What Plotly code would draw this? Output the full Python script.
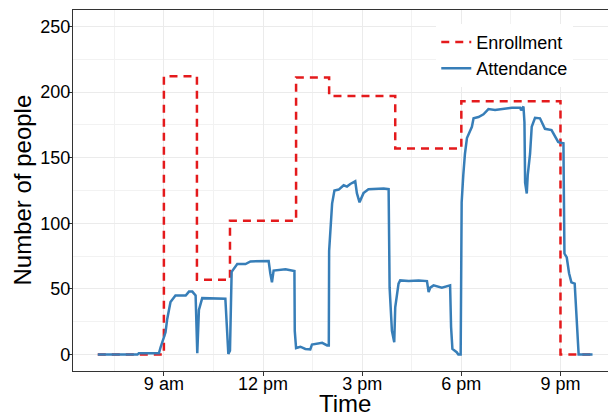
import plotly.graph_objects as go

# Enrollment (step function), time in hours of the day
enroll_t = [7, 9, 10, 11, 13, 14, 16, 18, 21, 22]
enroll_v = [0, 212, 57, 102, 211, 197, 157, 193, 0, 0]

# Attendance, time in hours of the day
attend_t = [7.0, 8.2, 8.24, 8.85, 8.90, 9.05, 9.10, 9.20, 9.35, 9.66, 9.76, 9.86, 9.96,
            10.01, 10.06, 10.16, 10.86, 10.89, 10.95, 11.0, 11.05, 11.22, 11.47, 11.62,
            12.17, 12.22, 12.27, 12.32, 12.68, 12.95, 12.96, 13.0, 13.13, 13.28, 13.43,
            13.48, 13.79, 13.94, 13.99, 14.0, 14.04, 14.09, 14.16, 14.29, 14.44, 14.54,
            14.64, 14.79, 14.84, 14.92, 15.04, 15.19, 15.65, 15.80, 15.83, 15.90, 15.97,
            16.0, 16.10, 16.15, 16.41, 16.71, 16.96, 17.01, 17.06, 17.16, 17.41, 17.66,
            17.69, 17.73, 17.86, 17.91, 17.98, 18.01, 18.06, 18.11, 18.17, 18.27, 18.32,
            18.37, 18.52, 18.67, 18.82, 19.02, 19.22, 19.53, 19.78, 19.81, 19.88, 19.91,
            19.93, 19.98, 20.01, 20.08, 20.13, 20.23, 20.38, 20.53, 20.73, 20.83, 20.93,
            21.0, 21.09, 21.10, 21.11, 21.12, 21.19, 21.26, 21.33, 21.43, 21.55, 21.97]
attend_v = [0, 0, 1, 1, 5.6, 17, 27, 40, 45, 45, 48, 48, 45,
            1, 34, 43, 42.5, 24, 0.5, 3, 63, 69, 69, 71,
            71.2, 62, 55, 64, 65, 63.6, 18, 5, 6, 4.3, 4,
            7.6, 9, 7, 7, 79, 100, 115, 125, 125.7, 129, 128,
            130, 132, 123, 116, 123, 126, 126.5, 126, 51, 18, 9.4,
            36, 54, 56.5, 56, 56.5, 56, 47.6, 51, 52.7, 51, 52.7,
            21, 4.3, 1.8, 0, 0, 116, 137, 153, 165, 170, 173.5,
            180, 181, 183, 187, 186.3, 187, 188, 188, 186, 189, 177,
            131, 122.7, 137, 153, 173.5, 180.4, 180, 172, 171, 167, 162,
            161.3, 161, 130, 100, 77, 74, 62, 55, 54, 0, 0]

x_tickvals = [9, 12, 15, 18, 21]
x_ticktext = ["9 am", "12 pm", "3 pm", "6 pm", "9 pm"]
x_minor = [7.5, 10.5, 13.5, 16.5, 19.5, 22.5]
y_tickvals = [0, 50, 100, 150, 200, 250]
y_minor = [25, 75, 125, 175, 225]
x_title = "Time"
y_title = "Number of people"

FONT = "Liberation Sans, Arial, Helvetica, sans-serif"
# the page body adds an 8px offset; margins compensate so the plot lands where intended
W, H = 616, 412
ML, MR, MT, MB = 65, 8, 2, 49
PW, PH = W - ML - MR, H - MT - MB

fig = go.Figure()
fig.add_trace(go.Scatter(
    x=enroll_t, y=enroll_v, mode="lines", name="Enrollment",
    line=dict(color="#E41A1C", width=2.5, dash="8px,6px", shape="hv"),
))
fig.add_trace(go.Scatter(
    x=attend_t, y=attend_v, mode="lines", name="Attendance",
    line=dict(color="#377EB8", width=2.5),
))

fig.update_layout(
    width=W, height=H,
    margin=dict(l=ML, r=MR, t=MT, b=MB, autoexpand=False),
    paper_bgcolor="white", plot_bgcolor="white",
    font=dict(family=FONT, color="black", size=18),
    showlegend=True,
    legend=dict(
        x=0.669, y=0.962, xanchor="left", yanchor="top",
        bgcolor="white", borderwidth=0,
        font=dict(size=18, color="black"),
        itemwidth=30, tracegroupgap=0,
    ),
    xaxis=dict(
        range=[6.25, 22.68], automargin=False,
        tickmode="array", tickvals=x_tickvals, ticktext=x_ticktext,
        showgrid=True, gridcolor="#EBEBEB", gridwidth=1.2,
        minor=dict(tickvals=x_minor, showgrid=True, gridcolor="#F2F2F2", gridwidth=0.6, ticklen=0),
        showline=True, linecolor="#333333", linewidth=1.2, mirror=True,
        ticks="outside", ticklen=4, tickcolor="#333333", tickwidth=1,
        tickfont=dict(size=18, color="black"), ticklabelstandoff=-8,
        zeroline=False,
    ),
    yaxis=dict(
        range=[-12.5, 262.5], automargin=False,
        tickmode="array", tickvals=y_tickvals,
        showgrid=True, gridcolor="#EBEBEB", gridwidth=1.2,
        minor=dict(tickvals=y_minor, showgrid=True, gridcolor="#F2F2F2", gridwidth=0.6, ticklen=0),
        showline=True, linecolor="#333333", linewidth=1.2,
        ticks="outside", ticklen=4, tickcolor="#333333", tickwidth=1,
        tickfont=dict(size=18, color="black"), ticklabelstandoff=-6,
        zeroline=False,
    ),
    annotations=[
        dict(text=x_title, xref="paper", yref="paper",
             x=0.5, y=-(380 - (H - MB)) / PH, xanchor="center", yanchor="top",
             showarrow=False, font=dict(size=24, color="black")),
        dict(text=y_title, xref="paper", yref="paper", textangle=-90,
             x=(14 - ML) / PW, y=0.5, xanchor="center", yanchor="middle",
             showarrow=False, font=dict(size=24, color="black")),
    ],
)

fig.write_html("out.html")
